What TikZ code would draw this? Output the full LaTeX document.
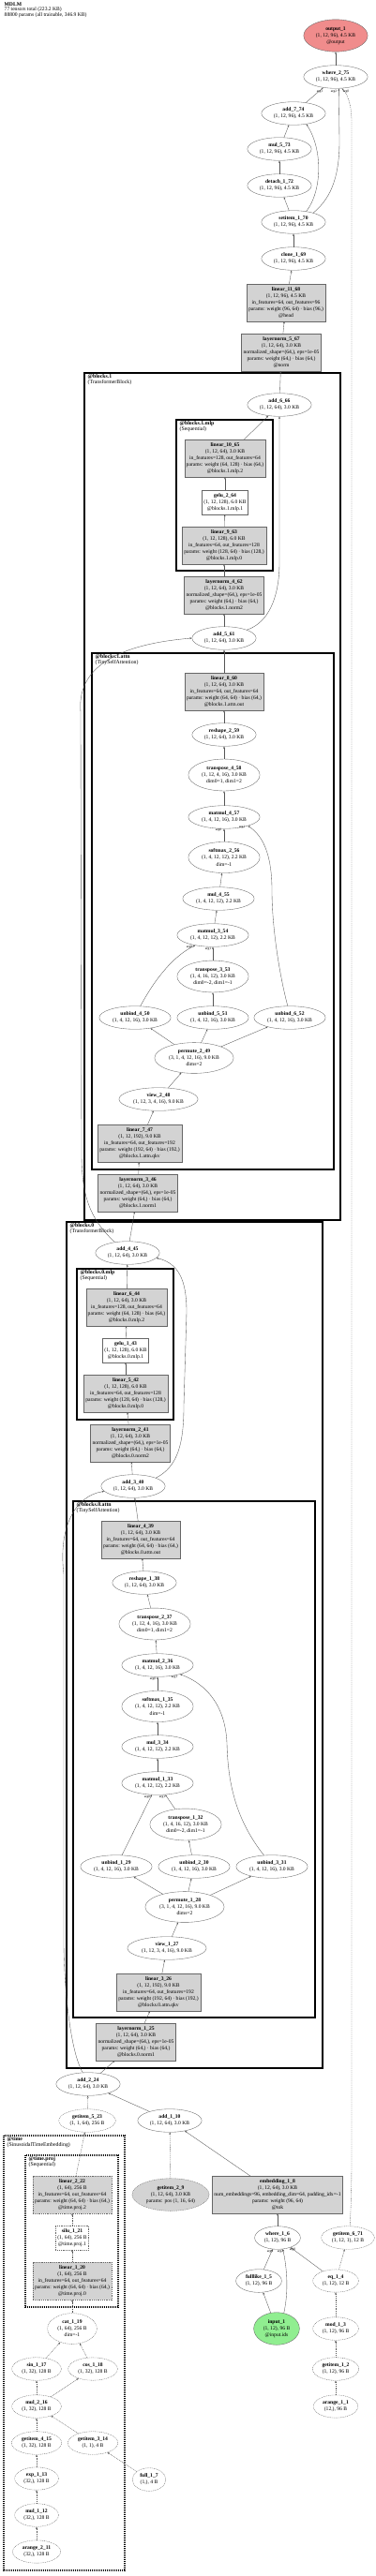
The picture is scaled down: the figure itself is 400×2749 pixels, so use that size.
\documentclass[tikz,border=0pt]{standalone}
\usepackage{fontspec}
\setmainfont{Liberation Serif}
\usetikzlibrary{shapes.geometric,arrows.meta}
\definecolor{modgray}{HTML}{D3D3D3}
\definecolor{outred}{HTML}{F08C8C}
\definecolor{ingreen}{HTML}{90EE90}
\definecolor{edgegray}{HTML}{555555}
\newcommand{\nodefont}{\fontsize{5.6}{7.1}\selectfont}
\newcommand{\argfont}{\fontsize{3.6}{4}\selectfont}
\newcommand{\clusterfont}{\fontsize{5.8}{5.6}\selectfont}
\tikzset{
  op/.style={ellipse, draw=black!60, line width=0.35pt, inner xsep=3pt, inner ysep=2.6pt, align=center, font=\nodefont},
  modbox/.style={rectangle, draw=black!60, fill=modgray, line width=0.35pt, inner xsep=2pt, inner ysep=3.2pt, align=center, font=\nodefont},
  actbox/.style={modbox, fill=white},
  ghost/.style={dash pattern=on 1pt off 0.8pt},
  conn/.style={draw=edgegray, line width=0.35pt, -{Stealth[length=2.4pt,width=1.8pt]}},
  dconn/.style={conn, dash pattern=on 1pt off 0.8pt},
  cluster/.style={draw=black, line width=1.4pt},
  tcluster/.style={cluster, dash pattern=on 1.2pt off 0.8pt},
  clabel/.style={anchor=north west, inner sep=0pt, align=left, font=\clusterfont},
  arglabel/.style={inner sep=0pt, font=\argfont},
}
\begin{document}
\begin{tikzpicture}[x=1pt,y=-1pt]
    \useasboundingbox (0,0) rectangle (400,2749);
    % header
    \node[anchor=north west, align=left, inner sep=0pt, font=\fontsize{5.6}{5.5}\selectfont] (header) at (4.5,2.5)
        {\textbf{MDLM}\\77 tensors total (223.2 KB)\\88800 params (all trainable, 346.9 KB)};
    % clusters
    \draw[cluster] (90,398) rectangle (363,1302);
    \draw[cluster] (188,448) rectangle (291,609);
    \draw[cluster] (98,697) rectangle (356,1248);
    \draw[cluster] (71,1304) rectangle (344,2207);
    \draw[cluster] (82,1354) rectangle (185,1515);
    \draw[cluster] (78,1602) rectangle (336,2153);
    \draw[tcluster] (4,2279) rectangle (133,2743);
    \draw[tcluster] (27,2300) rectangle (126,2462);
    \node[clabel] (lblocks1) at (93.5,399.5) {\textbf{@blocks.1}\\(TransformerBlock)};
    \node[clabel] (lblocks1mlp) at (191.5,449.5) {\textbf{@blocks.1.mlp}\\(Sequential)};
    \node[clabel] (lblocks1attn) at (101.5,698.5) {\textbf{@blocks.1.attn}\\(TinySelfAttention)};
    \node[clabel] (lblocks0) at (74.5,1305.5) {\textbf{@blocks.0}\\(TransformerBlock)};
    \node[clabel] (lblocks0mlp) at (85.5,1355.5) {\textbf{@blocks.0.mlp}\\(Sequential)};
    \node[clabel] (lblocks0attn) at (81.5,1603.5) {\textbf{@blocks.0.attn}\\(TinySelfAttention)};
    \node[clabel] (ltime) at (7.5,2280.5) {\textbf{@time}\\(SinusoidalTimeEmbedding)};
    \node[clabel] (ltimeproj) at (30.5,2301.5) {\textbf{@time.proj}\\(Sequential)};
    % head
    \node[op, fill=outred] (outp) at (358,38) {\textbf{output\_1}\\(1, 12, 96), 4.5 KB\\@output};
    \node[op] (where2) at (358,82) {\textbf{where\_2\_75}\\(1, 12, 96), 4.5 KB};
    \node[op] (add7) at (313,121) {\textbf{add\_7\_74}\\(1, 12, 96), 4.5 KB};
    \node[op] (mul5) at (298,159) {\textbf{mul\_5\_73}\\(1, 12, 96), 4.5 KB};
    \node[op] (detach1) at (298,198) {\textbf{detach\_1\_72}\\(1, 12, 96), 4.5 KB};
    \node[op] (setitem1) at (313,237) {\textbf{setitem\_1\_70}\\(1, 12, 96), 4.5 KB};
    \node[op] (clone1) at (313,276) {\textbf{clone\_1\_69}\\(1, 12, 96), 4.5 KB};
    \node[modbox] (linear11) at (305,323) {\textbf{linear\_11\_68}\\(1, 12, 96), 4.5 KB\\in\_features=64, out\_features=96\\params: weight (96, 64) · bias (96,)\\@head};
    \node[modbox] (layernorm5) at (300,376) {\textbf{layernorm\_5\_67}\\(1, 12, 64), 3.0 KB\\normalized\_shape=(64,), eps=1e-05\\params: weight (64,) · bias (64,)\\@norm};
    % blocks.1
    \node[op] (add6) at (298,432) {\textbf{add\_6\_66}\\(1, 12, 64), 3.0 KB};
    \node[modbox] (linear10) at (240,489) {\textbf{linear\_10\_65}\\(1, 12, 64), 3.0 KB\\in\_features=128, out\_features=64\\params: weight (64, 128) · bias (64,)\\@blocks.1.mlp.2};
    \node[actbox] (gelu2) at (240,536) {\textbf{gelu\_2\_64}\\(1, 12, 128), 6.0 KB\\@blocks.1.mlp.1};
    \node[modbox] (linear9) at (239,582) {\textbf{linear\_9\_63}\\(1, 12, 128), 6.0 KB\\in\_features=64, out\_features=128\\params: weight (128, 64) · bias (128,)\\@blocks.1.mlp.0};
    \node[modbox] (layernorm4) at (239,635) {\textbf{layernorm\_4\_62}\\(1, 12, 64), 3.0 KB\\normalized\_shape=(64,), eps=1e-05\\params: weight (64,) · bias (64,)\\@blocks.1.norm2};
    \node[op] (add5) at (239,681) {\textbf{add\_5\_61}\\(1, 12, 64), 3.0 KB};
    \node[modbox] (linear8) at (239,738) {\textbf{linear\_8\_60}\\(1, 12, 64), 3.0 KB\\in\_features=64, out\_features=64\\params: weight (64, 64) · bias (64,)\\@blocks.1.attn.out};
    \node[op] (reshape2) at (239,784) {\textbf{reshape\_2\_59}\\(1, 12, 64), 3.0 KB};
    \node[op] (transpose4) at (239,827) {\textbf{transpose\_4\_58}\\(1, 12, 4, 16), 3.0 KB\\dim0=1, dim1=2};
    \node[op] (matmul4) at (239,872) {\textbf{matmul\_4\_57}\\(1, 4, 12, 16), 3.0 KB};
    \node[op] (softmax2) at (239,915) {\textbf{softmax\_2\_56}\\(1, 4, 12, 12), 2.2 KB\\dim=-1};
    \node[op] (mul4) at (233,959) {\textbf{mul\_4\_55}\\(1, 4, 12, 12), 2.2 KB};
    \node[op] (matmul3) at (227,998) {\textbf{matmul\_3\_54}\\(1, 4, 12, 12), 2.2 KB};
    \node[op] (transpose3) at (227,1042) {\textbf{transpose\_3\_53}\\(1, 4, 16, 12), 3.0 KB\\dim0=-2, dim1=-1};
    \node[op] (unbind4) at (144,1086) {\textbf{unbind\_4\_50}\\(1, 4, 12, 16), 3.0 KB};
    \node[op] (unbind5) at (227,1086) {\textbf{unbind\_5\_51}\\(1, 4, 12, 16), 3.0 KB};
    \node[op] (unbind6) at (309,1086) {\textbf{unbind\_6\_52}\\(1, 4, 12, 16), 3.0 KB};
    \node[op] (permute2) at (207,1129) {\textbf{permute\_2\_49}\\(3, 1, 4, 12, 16), 9.0 KB\\dims=2};
    \node[op] (view2) at (169,1173) {\textbf{view\_2\_48}\\(1, 12, 3, 4, 16), 9.0 KB};
    \node[modbox] (linear7) at (149,1220) {\textbf{linear\_7\_47}\\(1, 12, 192), 9.0 KB\\in\_features=64, out\_features=192\\params: weight (192, 64) · bias (192,)\\@blocks.1.attn.qkv};
    \node[modbox] (layernorm3) at (147,1273) {\textbf{layernorm\_3\_46}\\(1, 12, 64), 3.0 KB\\normalized\_shape=(64,), eps=1e-05\\params: weight (64,) · bias (64,)\\@blocks.1.norm1};
    % blocks.0
    \node[op] (add4) at (136,1337) {\textbf{add\_4\_45}\\(1, 12, 64), 3.0 KB};
    \node[modbox] (linear6) at (135,1395) {\textbf{linear\_6\_44}\\(1, 12, 64), 3.0 KB\\in\_features=128, out\_features=64\\params: weight (64, 128) · bias (64,)\\@blocks.0.mlp.2};
    \node[actbox] (gelu1) at (134,1441) {\textbf{gelu\_1\_43}\\(1, 12, 128), 6.0 KB\\@blocks.0.mlp.1};
    \node[modbox] (linear5) at (134,1487) {\textbf{linear\_5\_42}\\(1, 12, 128), 6.0 KB\\in\_features=64, out\_features=128\\params: weight (128, 64) · bias (128,)\\@blocks.0.mlp.0};
    \node[modbox] (layernorm2) at (139,1540) {\textbf{layernorm\_2\_41}\\(1, 12, 64), 3.0 KB\\normalized\_shape=(64,), eps=1e-05\\params: weight (64,) · bias (64,)\\@blocks.0.norm2};
    \node[op] (add3) at (142,1586) {\textbf{add\_3\_40}\\(1, 12, 64), 3.0 KB};
    \node[modbox] (linear4) at (150,1643) {\textbf{linear\_4\_39}\\(1, 12, 64), 3.0 KB\\in\_features=64, out\_features=64\\params: weight (64, 64) · bias (64,)\\@blocks.0.attn.out};
    \node[op] (reshape1) at (154,1689) {\textbf{reshape\_1\_38}\\(1, 12, 64), 3.0 KB};
    \node[op] (transpose2) at (165,1733) {\textbf{transpose\_2\_37}\\(1, 12, 4, 16), 3.0 KB\\dim0=1, dim1=2};
    \node[op] (matmul2) at (168,1777) {\textbf{matmul\_2\_36}\\(1, 4, 12, 16), 3.0 KB};
    \node[op] (softmax1) at (168,1821) {\textbf{softmax\_1\_35}\\(1, 4, 12, 12), 2.2 KB\\dim=-1};
    \node[op] (mul3) at (168,1864) {\textbf{mul\_3\_34}\\(1, 4, 12, 12), 2.2 KB};
    \node[op] (matmul1) at (168,1903) {\textbf{matmul\_1\_33}\\(1, 4, 12, 12), 2.2 KB};
    \node[op] (transpose1) at (198,1947) {\textbf{transpose\_1\_32}\\(1, 4, 16, 12), 3.0 KB\\dim0=-2, dim1=-1};
    \node[op] (unbind1) at (124,1992) {\textbf{unbind\_1\_29}\\(1, 4, 12, 16), 3.0 KB};
    \node[op] (unbind2) at (207,1992) {\textbf{unbind\_2\_30}\\(1, 4, 12, 16), 3.0 KB};
    \node[op] (unbind3) at (290,1992) {\textbf{unbind\_3\_31}\\(1, 4, 12, 16), 3.0 KB};
    \node[op] (permute1) at (197,2035) {\textbf{permute\_1\_28}\\(3, 1, 4, 12, 16), 9.0 KB\\dims=2};
    \node[op] (view1) at (178,2079) {\textbf{view\_1\_27}\\(1, 12, 3, 4, 16), 9.0 KB};
    \node[modbox] (linear3) at (169,2126) {\textbf{linear\_3\_26}\\(1, 12, 192), 9.0 KB\\in\_features=64, out\_features=192\\params: weight (192, 64) · bias (192,)\\@blocks.0.attn.qkv};
    \node[modbox] (layernorm1) at (145,2179) {\textbf{layernorm\_1\_25}\\(1, 12, 64), 3.0 KB\\normalized\_shape=(64,), eps=1e-05\\params: weight (64,) · bias (64,)\\@blocks.0.norm1};
    % embeddings
    \node[op] (add2) at (94,2224) {\textbf{add\_2\_24}\\(1, 12, 64), 3.0 KB};
    \node[op, ghost] (getitem5) at (93,2263) {\textbf{getitem\_5\_23}\\(1, 1, 64), 256 B};
    \node[op] (add1) at (181,2263) {\textbf{add\_1\_10}\\(1, 12, 64), 3.0 KB};
    \node[op, ghost, fill=modgray] (getitem2) at (182,2342) {\textbf{getitem\_2\_9}\\(1, 12, 64), 3.0 KB\\params: pos (1, 16, 64)};
    \node[modbox] (embedding1) at (296,2342) {\textbf{embedding\_1\_8}\\(1, 12, 64), 3.0 KB\\num\_embeddings=96, embedding\_dim=64, padding\_idx=-1\\params: weight (96, 64)\\@tok};
    \node[op] (where1) at (296,2388) {\textbf{where\_1\_6}\\(1, 12), 96 B};
    \node[op] (fulllike1) at (276,2434) {\textbf{fulllike\_1\_5}\\(1, 12), 96 B};
    \node[op, fill=ingreen] (input1) at (295,2485) {\textbf{input\_1}\\(1, 12), 96 B\\@input.ids};
    \node[op, ghost] (getitem6) at (371,2388) {\textbf{getitem\_6\_71}\\(1, 12, 1), 12 B};
    \node[op, ghost] (eq1) at (358,2434) {\textbf{eq\_1\_4}\\(1, 12), 12 B};
    \node[op, ghost] (mod1) at (358,2485) {\textbf{mod\_1\_3}\\(1, 12), 96 B};
    \node[op, ghost] (getitem1) at (358,2528) {\textbf{getitem\_1\_2}\\(1, 12), 96 B};
    \node[op, ghost] (arange1) at (358,2568) {\textbf{arange\_1\_1}\\(12,), 96 B};
    % time embedding
    \node[modbox, ghost] (linear2) at (77,2342) {\textbf{linear\_2\_22}\\(1, 64), 256 B\\in\_features=64, out\_features=64\\params: weight (64, 64) · bias (64,)\\@time.proj.2};
    \node[actbox, ghost] (silu1) at (77,2388) {\textbf{silu\_1\_21}\\(1, 64), 256 B\\@time.proj.1};
    \node[modbox, ghost] (linear1) at (77,2434) {\textbf{linear\_1\_20}\\(1, 64), 256 B\\in\_features=64, out\_features=64\\params: weight (64, 64) · bias (64,)\\@time.proj.0};
    \node[op, ghost] (cat1) at (77,2485) {\textbf{cat\_1\_19}\\(1, 64), 256 B\\dim=-1};
    \node[op, ghost] (sin1) at (39,2528) {\textbf{sin\_1\_17}\\(1, 32), 128 B};
    \node[op, ghost] (cos1) at (99,2528) {\textbf{cos\_1\_18}\\(1, 32), 128 B};
    \node[op, ghost] (mul2) at (39,2568) {\textbf{mul\_2\_16}\\(1, 32), 128 B};
    \node[op, ghost] (getitem4) at (39,2607) {\textbf{getitem\_4\_15}\\(1, 32), 128 B};
    \node[op, ghost] (getitem3) at (99,2607) {\textbf{getitem\_3\_14}\\(1, 1), 4 B};
    \node[op, ghost] (exp1) at (39,2645) {\textbf{exp\_1\_13}\\(32,), 128 B};
    \node[op, ghost] (mul1) at (39,2684) {\textbf{mul\_1\_12}\\(32,), 128 B};
    \node[op, ghost] (arange2) at (39,2723) {\textbf{arange\_2\_11}\\(32,), 128 B};
    \node[op, ghost] (full1) at (159,2646) {\textbf{full\_1\_7}\\(1,), 4 B};
    % straight edges
    \foreach \a/\b in {where2/outp, add7/where2, mul5/add7, detach1/mul5, setitem1/detach1, clone1/setitem1,
        linear11/clone1, layernorm5/linear11, add6/layernorm5, linear10/add6, gelu2/linear10, linear9/gelu2,
        layernorm4/linear9, add5/layernorm4, linear8/add5, reshape2/linear8, transpose4/reshape2,
        matmul4/transpose4, softmax2/matmul4, mul4/softmax2, matmul3/mul4, transpose3/matmul3,
        unbind5/transpose3, permute2/unbind4, permute2/unbind5, permute2/unbind6, view2/permute2,
        linear7/view2, layernorm3/linear7, add4/layernorm3, linear6/add4, gelu1/linear6, linear5/gelu1,
        layernorm2/linear5, add3/layernorm2, linear4/add3, reshape1/linear4, transpose2/reshape1,
        matmul2/transpose2, softmax1/matmul2, mul3/softmax1, matmul1/mul3, transpose1/matmul1,
        unbind1/matmul1, unbind2/transpose1, permute1/unbind1, permute1/unbind2, permute1/unbind3,
        view1/permute1, linear3/view1, layernorm1/linear3, add2/layernorm1, add1/add2, embedding1/add1,
        where1/embedding1, fulllike1/where1, input1/fulllike1, eq1/where1}
        \draw[conn] (\a) -- (\b);
    \foreach \a/\b in {getitem5/add2, getitem2/add1, linear2/getitem5, silu1/linear2, linear1/silu1,
        cat1/linear1, sin1/cat1, cos1/cat1, mul2/sin1, mul2/cos1, getitem4/mul2, getitem3/mul2,
        exp1/getitem4, mul1/exp1, arange2/mul1, full1/getitem3, eq1/getitem6, mod1/eq1,
        getitem1/mod1, arange1/getitem1}
        \draw[dconn] (\a) -- (\b);
    % curved edges
    \draw[conn] (setitem1.40) .. controls (343,205) and (345,160) .. (add7.-40);
    \draw[conn] (setitem1.25) .. controls (355,210) and (362,185) .. (362,150) -- (where2.-75);
    \draw[dconn] (getitem6.80) .. controls (374,2360) and (375,2340) .. (375,2300) -- (375,130)
        .. controls (375,110) and (370,100) .. (where2.-62);
    \draw[conn] (add5.20) .. controls (285,665) and (298,640) .. (298,600) -- (add6.south);
    \draw[conn] (add4.140) .. controls (95,1300) and (87,1275) .. (87,1230) -- (86,760)
        .. controls (82,715) and (120,688) .. (add5.west);
    \draw[conn] (unbind6.100) .. controls (298,1040) and (290,990) .. (290,950)
        .. controls (290,915) and (282,893) .. (matmul4.-20);
    \draw[conn] (unbind4.65) .. controls (165,1045) and (185,1020) .. (matmul3.-150);
    \draw[conn] (add3.20) .. controls (190,1565) and (196,1540) .. (196,1500) -- (199,1400)
        .. controls (199,1365) and (190,1348) .. (add4.-10);
    \draw[conn] (unbind3.125) .. controls (250,1940) and (243,1900) .. (242,1860)
        .. controls (240,1815) and (215,1795) .. (matmul2.-22);
    \draw[conn] (add2.115) .. controls (75,2190) and (68,2120) .. (68,2070) -- (68,1680)
        .. controls (62,1630) and (80,1596) .. (add3.190);
    \draw[conn] (input1.65) .. controls (308,2445) and (306,2420) .. (where1.-65);
    % argument labels
    \node[arglabel] (w2a1) at (341,97.5) {arg1};
    \node[arglabel] (w2a2) at (356,98) {arg2};
    \node[arglabel] (w2a0) at (369,98) {arg0};
    \node[arglabel] (m4a0) at (233,886) {arg0};
    \node[arglabel] (m4a1) at (258,883) {arg1};
    \node[arglabel] (m3a0) at (202,1011) {arg0};
    \node[arglabel] (m3a1) at (222,1013) {arg1};
    \node[arglabel] (m2a0) at (163,1792) {arg0};
    \node[arglabel] (m2a1) at (186,1789.5) {arg1};
    \node[arglabel] (m1a0) at (157,1918) {arg0};
    \node[arglabel] (m1a1) at (173,1918) {arg1};
    \node[arglabel] (w1a1) at (288,2403) {arg1};
    \node[arglabel] (w1a2) at (299,2403) {arg2};
    \node[arglabel] (w1a0) at (312,2401) {arg0};
\end{tikzpicture}
\end{document}
